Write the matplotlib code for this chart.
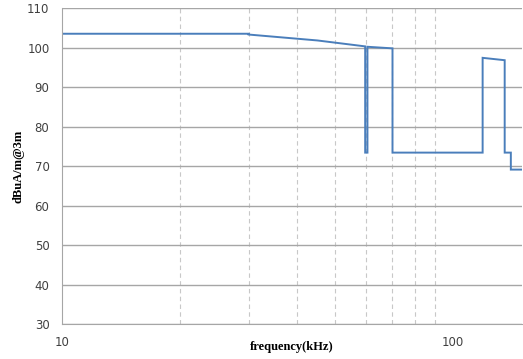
import matplotlib

matplotlib.use("Agg")
import matplotlib.pyplot as plt
from matplotlib.ticker import FixedLocator, NullFormatter

# emission limit profile (kHz, dBuA/m@3m)
freq_khz = [10, 30, 30, 45, 59.6, 59.6, 60.4, 60.4, 70, 70, 119, 119, 135.5, 135.5, 140.5, 140.5, 150]
level_db = [103.5, 103.5, 103.3, 101.8, 100.3, 73.4, 73.4, 100.2, 99.8, 73.4, 73.4, 97.4, 96.8, 73.4, 73.4, 69.1, 69.1]

y_ticks = [30, 40, 50, 60, 70, 80, 90, 100, 110]
x_major = [10, 100]
x_minor = [20, 30, 40, 50, 60, 70, 80, 90, 100]

fig = plt.figure(figsize=(5.23, 3.59), dpi=100)
ax = fig.add_axes([0.1185, 0.0975, 0.8795, 0.880])

ax.plot(freq_khz, level_db, color="#4a7ebb", lw=1.4, solid_joinstyle="miter")

ax.set_xscale("log")
ax.set_xlim(10, 150)
ax.set_ylim(30, 110)
ax.xaxis.set_major_locator(FixedLocator(x_major))
ax.xaxis.set_minor_locator(FixedLocator(x_minor))
ax.xaxis.set_minor_formatter(NullFormatter())
ax.set_xticklabels(["10", "100"])
ax.set_yticks(y_ticks)

ax.grid(axis="y", which="major", color="#a6a6a6", lw=1.0)
ax.grid(axis="x", which="minor", color="#c8c8c8", lw=0.8, ls=(0, (4, 3)))
ax.set_axisbelow(True)

for side in ("top", "right"):
    ax.spines[side].set_visible(False)
for side in ("left", "bottom"):
    ax.spines[side].set_color("#a6a6a6")

ax.tick_params(axis="both", which="both", length=0, labelsize=8.5, labelcolor="#404040")
ax.tick_params(axis="x", pad=9)
ax.tick_params(axis="y", pad=9)

serif = {"family": "Liberation Serif", "weight": "bold", "size": 9}
ax.set_xlabel("frequency(kHz)", fontdict=serif, labelpad=-6)
ax.set_ylabel("dBuA/m@3m", fontdict=serif, labelpad=2)

fig.savefig("out.png", dpi=100)
